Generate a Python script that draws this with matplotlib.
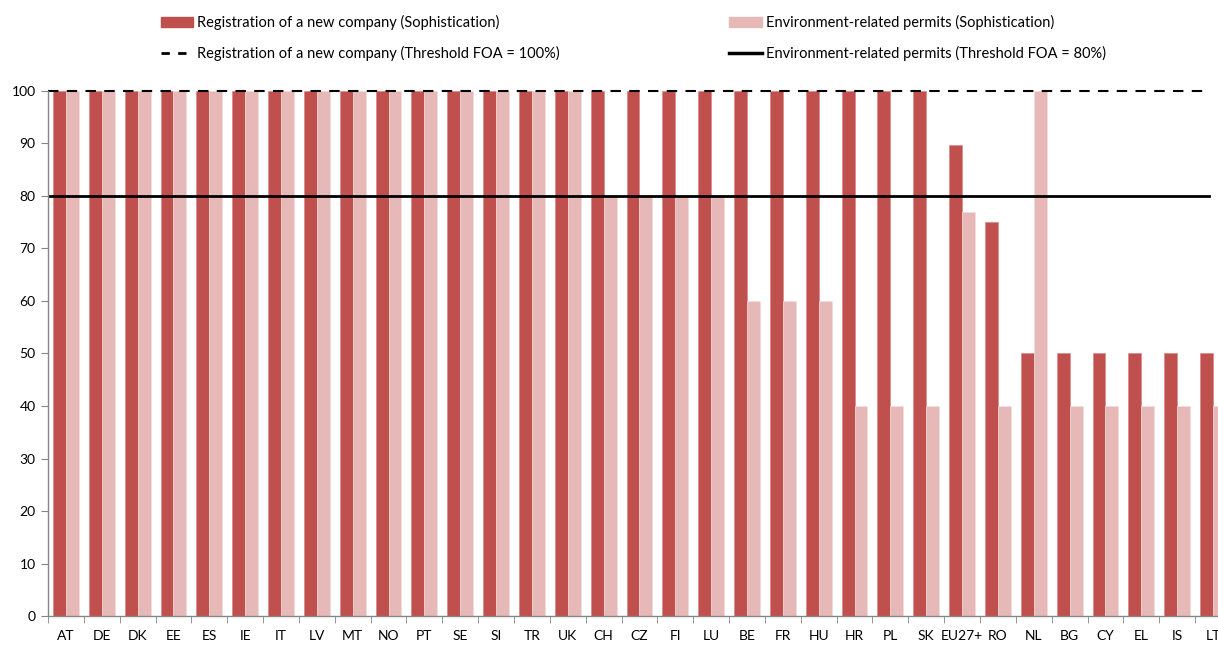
import matplotlib.pyplot as plt
import numpy as np
from matplotlib.lines import Line2D
from matplotlib.patches import Patch

plt.rcParams['font.family'] = ['Lato', 'DejaVu Sans']

countries = ['AT', 'DE', 'DK', 'EE', 'ES', 'IE', 'IT', 'LV', 'MT', 'NO', 'PT', 'SE', 'SI', 'TR', 'UK',
             'CH', 'CZ', 'FI', 'LU', 'BE', 'FR', 'HU', 'HR', 'PL', 'SK', 'EU27+', 'RO', 'NL',
             'BG', 'CY', 'EL', 'IS', 'LT']
registration = [100]*25 + [89.7, 75, 50, 50, 50, 50, 50, 50]
environment = [100]*15 + [80, 80, 80, 80, 60, 60, 60, 40, 40, 40, 77, 40, 100, 40, 40, 40, 40, 40]
thr_registration = 100
thr_environment = 80

red = '#C0504D'
pink = '#E6B9B8'
axis_grey = '#868686'

fig = plt.figure(figsize=(12.18, 6.48), dpi=100)
ax = fig.add_axes([0.0394, 0.049, 0.9606, 0.811])

x = np.arange(len(countries))
w = 0.36
ax.bar(x - w/2, registration, w, color=red, edgecolor='#D98886', linewidth=0.5)
ax.bar(x + w/2, environment, w, color=pink, edgecolor='#F2DCDB', linewidth=0.5)

xmax = 0.992
ax.axhline(thr_registration, xmax=xmax, color='black', linestyle=(0, (5, 4)), linewidth=1.5, clip_on=False)
ax.axhline(thr_environment, xmax=xmax, color='black', linewidth=2)

ax.set_xlim(-0.5, 32.14)
ax.set_ylim(0, 100)
ax.set_yticks(range(0, 101, 10))
ax.tick_params(axis='y', labelsize=10, length=5, color=axis_grey, pad=4)
ax.set_xticks(x)
ax.set_xticklabels(countries, fontsize=10)
ax.tick_params(axis='x', length=0, pad=10)
ax.set_xticks(np.arange(len(countries)) - 0.5, minor=True)
ax.tick_params(axis='x', which='minor', length=5, color=axis_grey)

for s in ['top', 'right']:
    ax.spines[s].set_visible(False)
for s in ['left', 'bottom']:
    ax.spines[s].set_color(axis_grey)
    ax.spines[s].set_linewidth(1)

handles = [Patch(color=red), Line2D([], [], color='black', linestyle=(0, (3, 3)), linewidth=2),
           Patch(color=pink), Line2D([], [], color='black', linewidth=2.5)]
labels = ['Registration of a new company (Sophistication)',
          'Registration of a new company (Threshold FOA = 100%)',
          'Environment-related permits (Sophistication)',
          'Environment-related permits (Threshold FOA = 80%)']
fig.legend(handles, labels, ncol=2, loc='upper left', bbox_to_anchor=(0.121, 0.997),
           frameon=False, fontsize=10.5, handlelength=2.25, handleheight=0.6,
           handletextpad=0.27, columnspacing=11.6, labelspacing=1.1)

fig.savefig('out.png', dpi=100)
